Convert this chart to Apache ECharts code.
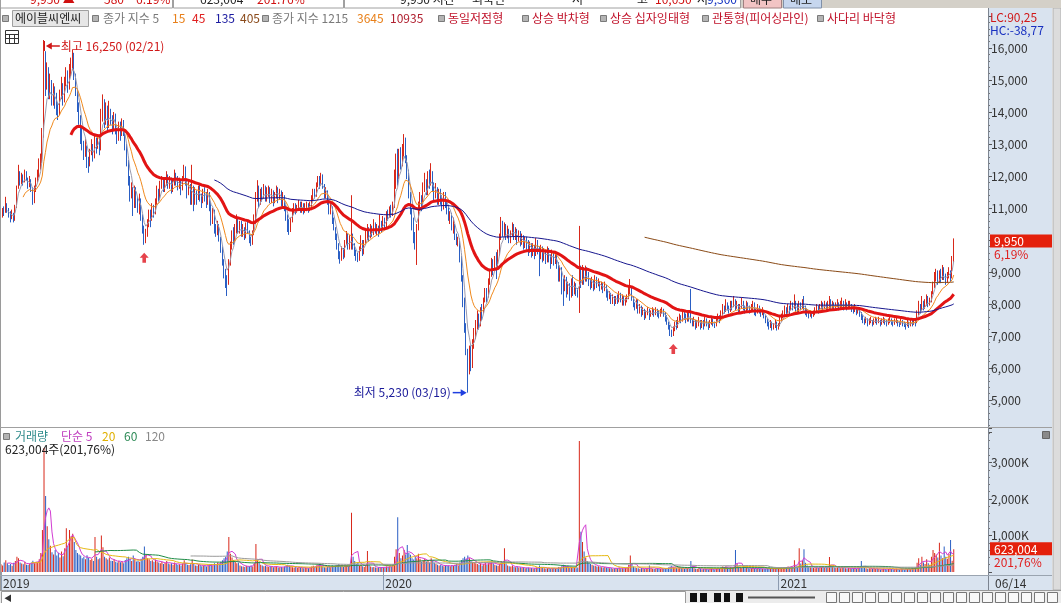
<!DOCTYPE html>
<html>
<head>
<meta charset="utf-8">
<script src="https://cdn.jsdelivr.net/npm/echarts@6/dist/echarts.min.js"></script>
<style>
  html, body { margin: 0; padding: 0; background: #fff; }
  #main { width: 1061px; height: 603px; }
</style>
</head>
<body>
<div id="main"></div>
<script>
// daily closes, 2019-01-10 .. 2021-06-14
const closes = [
  10750,10900,10850,11100,10950,10800,10700,10850,10600,11050, 11650,12100,11850,12000,11800,12150,11950,11700,11900,11600,
  11200,11550,11800,12050,12300,12500,13300,15600,14800,15300, 14600,14900,14300,14700,14400,14100,13900,14500,14800,14400,
  14900,15200,14800,15300,15500,15800,15100,14600,14200,13800, 13400,13000,12700,12900,12500,12300,12700,12950,12600,13100,
  12900,13200,12800,13900,14300,13700,14100,13600,14000,13800, 13500,13900,13400,13200,13600,13300,13700,13400,12900,12400,
  11900,11400,11600,11000,11500,11300,10900,11200,10700,10300, 10000,10200,10500,10800,10600,11000,10800,11200,11500,11300,
  11700,11900,11600,11800,12000,11700,11900,11600,11800,12100, 11900,11700,11800,11600,11900,12200,11800,11500,11700,11300,
  11600,11200,11500,11300,11600,11400,11200,11500,11400,11300, 11500,11100,10700,10900,10400,10200,10500,10000,9700,9300,
  9000,8700,8600,9300,9800,10200,10000,10400,10600,10300, 10500,10200,10400,10100,10500,10300,10000,9900,10200,10600,
  11300,11600,11200,11500,11400,11700,11300,11500,11600,11300, 11500,11200,11400,11600,11300,11500,11200,11400,11000,10700,
  10400,10300,10600,10900,11100,10900,11000,11200,10900,11100, 10900,11000,11100,10950,11050,11300,11500,11400,11700,11900,
  11800,12000,11700,11400,11500,11200,10900,11000,10600,10400, 10100,9800,9500,9400,9700,9500,9900,10100,9800,10000,
  10100,9800,9600,9500,9400,9700,9900,9600,9900,10100, 10300,10100,10400,10200,10500,10300,10400,10200,10500,10400,
  10600,10500,10800,10700,11000,10800,11100,11600,12300,11900, 12700,12400,12900,13100,12600,12000,11400,10900,10500,10200,
  10000,10400,11000,11300,11100,11600,11800,11500,12000,11800, 12100,11700,11400,11600,11200,11500,11300,11000,11400,11200,
  11000,10700,10800,10400,10500,10100,9900,10000,9500,8900, 8100,7300,6600,6000,6400,6100,6700,7000,7300,7600,
  7400,7800,7700,8100,8400,8200,8700,8900,9300,9100, 9400,9200,9600,10100,10500,10200,10400,10100,10300,10000,
  10200,10400,10100,10300,10000,10200,9900,10100,9800,10000, 9900,9700,9800,9600,9800,9600,9900,9700,9500,9700,
  9500,9600,9400,9700,9500,9300,9600,9400,9500,9200, 8900,9100,8700,8500,8800,8400,8600,8300,8700,8500,
  8600,8400,8300,8800,8700,9000,8800,9100,8900,8700, 8600,8700,8500,8800,8600,8700,8500,8600,8400,8600,
  8400,8200,8300,8100,8200,8000,8200,8100,8300,8100, 8200,8000,8100,8200,8400,8500,8200,8000,7900,8000,
  7800,7900,7700,7800,7600,7700,7800,7600,7700,7800, 7700,7800,7700,7600,7750,7800,7700,7600,7400,7300,
  7100,7050,7200,7400,7300,7500,7600,7500,7700,7600, 7500,7700,7600,7500,7400,7500,7300,7400,7500,7300,
  7400,7300,7500,7400,7300,7400,7500,7400,7350,7500, 7600,7500,7700,7900,7800,8000,7900,7800,8000,7900,
  8100,7900,8000,7800,7900,8100,7900,7800,8000,7900, 7800,7900,8000,7800,7700,7900,7800,7700,7800,7600,
  7500,7400,7300,7400,7250,7300,7400,7200,7300,7500, 7600,7700,7800,7700,7900,7800,8000,7900,8100,7900,
  7800,8000,7900,8100,7900,7800,7700,7600,7700,7650, 7700,7800,7900,7800,7900,8000,7900,8000,7900,8000,
  8100,7900,8000,7900,7950,8000,7900,8000,8050,7900, 8000,7900,7950,8000,7850,7800,7900,7750,7800,7700,
  7600,7500,7450,7500,7400,7450,7500,7400,7450,7500, 7450,7500,7400,7450,7500,7450,7400,7450,7500,7450,
  7400,7450,7500,7400,7350,7450,7400,7350,7300,7400, 7350,7450,7400,7500,7400,7700,7900,7800,8100,7900,
  8000,8200,8000,8100,8300,8600,8800,9000,8700,8900, 8800,9100,8900,8700,8900,9000,8800,9370,9950
];
const highs = [
  10900,11000,11050,11350,11150,11000,10900,10950,10850,11100, 11700,12350,12150,12100,12050,12200,12150,11950,12000,11900,
  11650,11700,11950,12200,12550,12700,13500,16250,15900,15550, 15400,15200,15000,14900,14800,14600,14300,14700,15100,14900,
  15100,15400,15300,15500,15700,15950,15850,15200,14700,14300, 13900,13500,13100,13150,12950,12600,12850,13150,13000,13250,
  13200,13300,13250,14100,14550,14400,14300,14200,14350,14100, 13900,14000,13950,13500,13700,13700,13800,13750,13450,13000,
  12500,12000,11800,11650,11700,11650,11350,11450,11300,10800, 10450,10350,10650,10950,10950,11150,11100,11300,11700,11600,
  11850,12000,11950,11900,12150,12050,12000,11950,11900,12200, 12100,12000,11950,11900,12000,12350,12300,11850,11900,11750,
  12350,11700,11650,11550,11700,11750,11450,11600,11650,11500, 11600,11500,11200,11000,10950,10500,10600,10500,10100,9800,
  9400,9100,8900,9400,9950,10300,10400,10500,10800,10700, 10600,10600,10500,10400,10550,10600,10300,10100,10300,10800,
  11500,11870,11700,11600,11650,11750,11700,11650,11700,11650, 11600,11550,11500,11700,11650,11600,11550,11500,11400,11100,
  10800,10650,10700,11000,11150,11150,11100,11250,11200,11200, 11150,11150,11200,11150,11200,11400,11600,11600,11800,12000,
  12000,12100,12050,11750,11650,11550,11250,11150,11050,10700, 10400,10200,9900,9650,9800,9750,10000,10280,10200,10150,
  11400,10200,9900,9700,9600,9800,10150,10000,10000,10300, 10500,10400,10500,10450,10650,10550,10500,10450,10800,10600,
  10750,10700,10900,10950,11050,11100,11200,12200,12700,12850, 12850,12900,13000,13310,13200,12650,12200,11500,11000,10700,
  10250,10500,11200,11500,11400,11800,12100,11900,12150,12200, 12400,12150,11800,11780,11650,11600,11600,11400,11500,11500,
  11200,11100,10900,10850,10700,10500,10200,10100,10050,9500, 8900,8200,7400,6600,6700,6700,6900,7250,7500,7800,
  7700,7900,8000,8200,8500,8500,8800,9100,9440,9400, 9500,9620,9700,10200,10720,10600,10550,10500,10450,10350,
  10300,10550,10500,10400,10350,10300,10280,10200,10150,10100, 10100,10000,9950,9900,9900,9850,10060,10000,9800,9850,
  9800,9750,9650,9800,9750,9550,9700,9650,9600,9550, 9310,9200,9150,8800,8900,8850,8700,8650,8800,8900,
  8700,8650,8500,10440,9200,9220,9150,9200,9150,9000, 8800,8850,8750,8900,8850,8800,8700,8700,8650,8700,
  8560,8450,8400,8350,8300,8250,8250,8300,8400,8350, 8300,8250,8200,8300,8550,8780,8550,8250,8050,8150,
  8150,8000,7950,7900,7850,7800,7900,7850,7800,7900, 7850,7900,7850,7800,7850,7900,7850,7750,7650,7450,
  7350,7200,7300,7450,7500,7600,7700,7650,7750,7750, 7700,7800,7750,8470,7550,7600,7500,7500,7600,7500,
  7500,7500,7600,7550,7450,7500,7600,7550,7450,7600, 7700,7650,7800,8000,7950,8150,8050,7950,8100,8100,
  8250,8150,8100,8000,8000,8200,8100,7950,8100,8050, 7950,8000,8100,8050,7850,8000,7950,7850,7900,7800,
  7650,7550,7450,7500,7450,7400,7500,7450,7400,7600, 7700,7800,7950,7900,8000,7950,8100,8050,8300,8100,
  8000,8100,8050,8150,8250,7950,7850,7750,7800,7750, 7800,7900,8000,7950,8000,8100,8050,8100,8050,8100,
  8250,8150,8100,8050,8050,8150,8050,8100,8200,8100, 8150,8050,8100,8100,8000,7950,8000,7900,7900,7850,
  7750,7650,7550,7600,7550,7550,7600,7500,7550,7600, 7550,7600,7500,7550,7600,7550,7500,7550,7600,7550,
  7500,7550,7600,7500,7450,7550,7500,7450,7400,7500, 7450,7500,7500,7550,7500,7800,8100,8000,8250,8100,
  8150,8300,8250,8200,8400,8700,9000,9100,9050,9050, 9100,9220,9150,8950,9000,9150,9050,9500,10050
];
const lows = [
  10600,10700,10750,10850,10850,10700,10550,10650,10550,10600, 11000,11600,11700,11750,11700,11800,11850,11600,11650,11500,
  11100,11150,11500,11800,11950,12200,12400,13200,14500,14700, 14400,14400,14200,14200,14100,13900,13750,13900,14400,14200,
  14300,14800,14600,14700,15100,15300,15000,14500,14000,13600, 13000,12800,12500,12600,12250,12100,12300,12650,12450,12550,
  12700,12850,12650,12800,13700,13500,13600,13400,13500,13600, 13300,13400,13300,13000,13100,13100,13250,13250,12800,12300,
  11700,11200,11300,10750,11000,11000,10850,10800,10600,10200, 9850,9900,10100,10400,10400,10600,10700,10800,11100,11200,
  11250,11600,11500,11500,11700,11600,11600,11450,11500,11700, 11700,11550,11600,11400,11550,11850,11700,11300,11400,11100,
  11100,10900,11100,11100,11250,11200,11000,11150,11200,11000, 11100,10900,10450,10500,10200,10100,10150,9950,9600,9200,
  8800,8500,8250,8600,9200,9700,9850,9900,10200,10200, 10200,10100,10100,10000,10050,10200,9900,9810,9850,10150,
  10500,11200,11000,11100,11200,11300,11200,11200,11350,11150, 11150,11050,11150,11300,11150,11250,11050,11050,10900,10600,
  10250,10160,10250,10550,10800,10800,10850,10950,10850,10850, 10800,10850,10900,10850,10900,11000,11250,11300,11350,11650,
  11600,11700,11600,11300,11300,11100,10800,10800,10500,10300, 10000,9700,9400,9260,9350,9400,9450,9850,9700,9700,
  9700,9700,9500,9350,9310,9350,9650,9500,9550,9850, 10000,9950,10050,10100,10150,10200,10150,10100,10200,10250,
  10300,10350,10400,10600,10700,10700,10750,11000,11600,11700, 12000,12200,12300,12600,12400,11900,11300,10800,10300,9900,
  9700,9220,10300,10900,10900,11000,11500,11400,11400,11600, 11700,11500,11200,11300,11100,11100,11100,10900,10950,11000,
  10800,10600,10500,10300,10200,10000,9840,9800,9300,8700, 7900,7100,6400,5230,5800,5900,6000,6600,6900,7200,
  7200,7300,7500,7700,8050,8050,8200,8600,8850,8900, 9100,8780,9150,9500,10000,10100,10100,10000,10050,9900,
  9900,10100,10000,10000,9850,9950,9800,9850,9700,9750, 9700,9500,9600,9450,9500,9400,9500,9550,8870,9400,
  9300,9350,9250,9300,9300,9100,9250,9200,9250,9100, 8700,8700,8300,7940,8400,8200,8300,8100,8200,8250,
  8300,8250,8200,7720,8500,8600,8600,8700,8700,8560, 8450,8500,8400,8450,8500,8550,8400,8450,8340,8400,
  8200,8100,8150,8000,8000,7940,8000,8000,8050,8050, 7950,7950,7950,8050,8150,8300,8100,7900,7800,7850,
  7700,7700,7600,7650,7500,7550,7650,7500,7600,7650, 7600,7650,7600,7550,7600,7700,7600,7450,7350,7200,
  7000,6970,7000,7150,7200,7250,7450,7400,7450,7500, 7400,7450,7450,7400,7300,7300,7200,7250,7300,7200,
  7250,7200,7300,7300,7190,7250,7350,7300,7250,7300, 7450,7400,7500,7650,7700,7750,7800,7700,7750,7800,
  7900,7800,7850,7720,7750,7850,7800,7700,7750,7800, 7700,7750,7800,7650,7620,7700,7700,7600,7650,7550,
  7400,7300,7200,7250,7170,7200,7250,7170,7200,7300, 7450,7550,7650,7600,7700,7650,7800,7800,7850,7750,
  7700,7750,7800,7850,7800,7650,7600,7550,7600,7550, 7600,7650,7750,7700,7750,7850,7800,7850,7800,7850,
  7850,7850,7850,7800,7850,7900,7800,7850,7900,7800, 7850,7800,7850,7850,7750,7700,7750,7650,7700,7600,
  7500,7400,7350,7400,7300,7350,7400,7300,7350,7400, 7350,7400,7300,7350,7400,7350,7300,7350,7400,7350,
  7300,7350,7400,7300,7280,7350,7300,7280,7200,7300, 7250,7300,7300,7350,7300,7400,7650,7700,7800,7800,
  7850,7950,7900,7950,8050,8300,8500,8700,8600,8650, 8650,8750,8750,8600,8650,8800,8700,8800,9300
];
// daily volume, thousands of shares
const volK = [
  210,180,260,320,240,190,220,170,250,300, 420,380,260,230,210,280,200,190,230,260,
  310,240,280,260,350,520,1150,3400,2080,1250, 900,720,540,480,600,450,520,400,560,430,
  650,1200,720,1150,980,1050,820,600,520,480, 450,380,420,350,460,390,330,360,300,960,
  420,350,380,1000,680,420,380,340,400,310, 300,350,280,260,310,270,290,240,330,380,
  420,360,300,450,340,290,310,280,360,420, 700,480,380,350,300,320,280,340,290,260,
  240,280,220,250,300,230,210,240,200,260, 220,190,210,180,230,320,250,200,190,210,
  340,220,180,170,200,190,160,180,170,150, 180,200,220,170,240,190,260,230,280,320,
  380,420,560,960,500,400,330,280,240,260, 180,160,150,140,170,150,160,180,150,220,
  770,340,260,200,180,160,170,150,140,160, 150,130,140,160,120,130,140,120,150,170,
  200,180,150,130,120,140,110,130,120,110, 100,120,110,100,120,150,170,140,180,200,
  220,180,160,130,120,140,160,130,180,150, 170,190,210,160,150,140,160,180,140,150,
  1620,420,300,220,260,180,200,160,140,170, 575,200,150,130,140,120,110,130,120,140,
  130,120,150,140,160,150,180,420,620,1500, 520,380,450,600,480,740,520,470,380,340,
  420,380,500,360,280,320,360,290,330,260, 380,300,250,220,200,180,190,170,160,180,
  170,180,160,190,170,200,220,180,260,330, 380,420,360,450,380,300,280,260,240,220,
  200,230,180,220,260,190,240,260,280,230, 200,180,170,220,300,260,650,240,180,160,
  150,170,140,130,150,120,130,110,120,100, 110,120,100,110,90,100,120,110,180,130,
  110,100,90,100,110,90,100,110,90,100, 140,120,160,200,130,150,120,110,130,120,
  110,100,120,3590,1100,820,560,400,300,260, 220,200,180,170,150,160,140,130,120,140,
  120,110,100,110,90,100,110,100,120,100, 100,90,110,120,200,450,230,150,120,110,
  100,90,110,100,90,80,100,180,110,90, 80,90,100,80,90,100,80,90,110,120,
  150,170,130,120,110,100,120,110,100,90, 100,110,90,300,150,100,90,80,90,80,
  70,80,90,80,70,80,90,80,70,90, 100,90,120,150,130,160,120,110,140,120,
  130,600,220,150,120,110,130,100,110,100, 90,100,110,90,80,100,90,80,90,80,
  90,100,80,90,110,90,80,90,100,110, 120,110,130,120,150,130,160,140,320,180,
  150,650,230,300,620,250,180,150,130,120, 110,100,120,110,130,150,120,110,130,120,
  410,180,140,120,110,130,120,100,150,110, 100,90,110,100,90,100,110,90,100,120,
  300,150,110,100,90,100,80,90,100,80, 90,80,70,80,90,80,70,80,90,80,
  70,80,90,80,70,90,80,70,90,80, 90,80,100,90,110,250,380,200,420,260,
  220,350,240,200,420,600,520,480,400,800, 450,380,700,420,360,500,880,308.79,623.004
];
const firstOpen = 10700;
const startDate = '2019-01-10';
const endDate = '2021-06-14';
const holidays = [
  '2019-02-04','2019-02-05','2019-02-06','2019-03-01','2019-05-01','2019-05-06','2019-06-06','2019-08-15',
  '2019-09-12','2019-09-13','2019-10-03','2019-10-09','2019-12-25','2019-12-31',
  '2020-01-01','2020-01-24','2020-01-27','2020-04-15','2020-04-30','2020-05-01','2020-05-05','2020-08-17',
  '2020-09-30','2020-10-01','2020-10-02','2020-10-09','2020-12-25','2020-12-31',
  '2021-01-01','2021-02-11','2021-02-12','2021-03-01','2021-05-05','2021-05-19'
];
const emaPeriods = [5, 15, 45, 135, 405];
const emaColors = ['#9a9aae', '#f08a1e', '#e21414', '#16168e', '#8a4a16'];
const emaWidths = [1, 1, 3, 1, 1];
const volMaPeriods = [5, 20, 60, 120];
const volMaColors = ['#d23cd2', '#e6b914', '#1e8c46', '#9a9a9a'];
const patternDates = ['2019-05-24', '2020-09-23'];
const padSlots = 21;

const UP = '#d8281a', DOWN = '#2a5fc4';
const FONT = '"Noto Sans CJK KR", "Noto Sans", sans-serif';
const fmtNum = v => v.toLocaleString('en-US');
const commaDec = v => v.toFixed(2).replace('.', ',');

// trading calendar
const dates = [];
for (let d = new Date(startDate + 'T00:00:00Z'); d <= new Date(endDate + 'T00:00:00Z'); d.setUTCDate(d.getUTCDate() + 1)) {
  const wd = d.getUTCDay(), s = d.toISOString().slice(0, 10);
  if (wd === 0 || wd === 6 || holidays.includes(s)) continue;
  dates.push(s);
}
const N = closes.length;
const cats = dates.slice(0, N).concat(Array.from({ length: padSlots }, (_, i) => 'pad' + i));

const opens = closes.map((c, i) => i === 0 ? firstOpen : closes[i - 1]);
const candleData = closes.map((c, i) => [opens[i], c, Math.min(lows[i], opens[i], c), Math.max(highs[i], opens[i], c)]);

function ema(src, n) {
  const a = 2 / (n + 1); let e = src[0];
  return src.map((v, i) => { e = i === 0 ? v : a * v + (1 - a) * e; return i < n - 1 ? '-' : Math.round(e * 10) / 10; });
}
function sma(src, n) {
  let s = 0;
  return src.map((v, i) => { s += v; if (i >= n) s -= src[i - n]; return i < n - 1 ? '-' : s / n; });
}
const yearStart = (i) => i === 0 || (i < N && dates[i].slice(0, 4) !== dates[i - 1].slice(0, 4));

const series = [
  { type: 'candlestick', xAxisIndex: 0, yAxisIndex: 0, data: candleData, barWidth: '70%', large: false, silent: true,
    itemStyle: { color: UP, color0: DOWN, borderColor: UP, borderColor0: DOWN, borderWidth: 1 }, z: 2 }
];
emaPeriods.forEach((p, j) => series.push({
  type: 'line', xAxisIndex: 0, yAxisIndex: 0, data: ema(closes, p), symbol: 'none', silent: true,
  lineStyle: { color: emaColors[j], width: emaWidths[j] }, z: 3
}));
series.push({
  type: 'scatter', xAxisIndex: 0, yAxisIndex: 0, silent: true, z: 5,
  data: patternDates.map(d => { const i = dates.indexOf(d); return [i, lows[i]]; }),
  symbol: 'path://M5,0 L10,5 L7,5 L7,10 L3,10 L3,5 L0,5 Z', symbolSize: [9, 10], symbolOffset: [0, 13],
  itemStyle: { color: '#e0141e' }
});
series.push({
  type: 'bar', xAxisIndex: 1, yAxisIndex: 1, barWidth: '60%', silent: true, z: 2,
  data: volK.map((v, i) => ({ value: v, itemStyle: { color: closes[i] >= opens[i] ? UP : DOWN } }))
});
volMaPeriods.forEach((p, j) => series.push({
  type: 'line', xAxisIndex: 1, yAxisIndex: 1, data: sma(volK, p), symbol: 'none', silent: true,
  lineStyle: { color: volMaColors[j], width: 1 }, z: 3
}));

const chart = echarts.init(document.getElementById('main'));
chart.setOption({
  backgroundColor: '#ffffff',
  animation: false,
  grid: [
    { left: 0, top: 16, width: 988, height: 416 },
    { left: 0, top: 428, width: 988, height: 144 }
  ],
  xAxis: [
    { gridIndex: 0, type: 'category', data: cats, boundaryGap: true, show: false },
    { gridIndex: 1, type: 'category', data: cats, boundaryGap: true,
      axisLine: { show: false }, splitLine: { show: false },
      axisTick: { show: true, alignWithLabel: true, interval: yearStart, length: 18, lineStyle: { color: '#8c9bb0' } },
      axisLabel: { interval: yearStart, formatter: v => v.slice(0, 4), align: 'left', margin: 5, padding: [0, 0, 0, 2],
        color: '#333', fontSize: 12, fontFamily: FONT } }
  ],
  yAxis: [
    { gridIndex: 0, type: 'value', position: 'right', min: 4000, max: 17000, interval: 1000,
      axisLine: { show: false }, splitLine: { show: false },
      axisTick: { show: true, length: 4, lineStyle: { color: '#555' } },
      minorTick: { show: true, splitNumber: 5, length: 2, lineStyle: { color: '#777' } },
      axisLabel: { margin: 3, color: '#333', fontSize: 12, fontFamily: FONT,
        formatter: v => (v < 5000 || v > 16000) ? '' : fmtNum(v) } },
    { gridIndex: 1, type: 'value', position: 'right', min: 0, max: 3945, interval: 1000,
      axisLine: { show: false }, splitLine: { show: false },
      axisTick: { show: true, length: 4, lineStyle: { color: '#555' } },
      minorTick: { show: true, splitNumber: 5, length: 2, lineStyle: { color: '#777' } },
      axisLabel: { margin: 3, color: '#333', fontSize: 12, fontFamily: FONT,
        formatter: v => (v <= 0 || v > 3000) ? '' : fmtNum(v) + 'K' } }
  ],
  series
});

// ---- decorations and annotations ----
function txt(x, y, text, fill, size, align) {
  return { type: 'text', x, y, z: 100, silent: true,
    style: { text, fill, font: (size || 12) + 'px ' + FONT, align: align || 'left', verticalAlign: 'middle' } };
}
function rect(x, y, w, h, fill, stroke, z) {
  return { type: 'rect', shape: { x, y, width: w, height: h }, z: z === undefined ? -5 : z, silent: true,
    style: { fill, stroke: stroke || null, lineWidth: 1 } };
}
function line(x1, y1, x2, y2, stroke, w, z) {
  return { type: 'line', shape: { x1, y1, x2, y2 }, z: z === undefined ? 50 : z, silent: true,
    style: { stroke, lineWidth: w || 1 } };
}
function square(x, y) { return rect(x + 0.5, y - 2.5, 6, 6, '#b4b4b4', '#7a7a7a', 100); }

const g = [];
// panels
g.push(rect(988, 8, 64, 582, '#d9e3ef'));
g.push(rect(0, 575, 988, 15, '#d9e3ef'));
g.push(rect(1053, 8, 8, 582, '#dcdcdc', '#b0b0b0'));
g.push(line(988.5, 8, 988.5, 590, '#7c8490', 1));
g.push(line(0.5, 8, 0.5, 590, '#9a9a9a', 1));
g.push(line(0, 427.5, 1052, 427.5, '#a0a0a0', 1));
g.push(line(0, 575.5, 1052, 575.5, '#9aa4b0', 1));
g.push(line(0, 590.5, 1061, 590.5, '#9a9a9a', 1));

// top strip (cut off by the window edge)
g.push(rect(0, 0, 1061, 8, '#d4d0c8'));
g.push(rect(0.5, -1, 172, 9, '#ffffff', '#a0a0a0'));
g.push(rect(173.5, -1, 170, 9, '#ffffff', '#a0a0a0'));
g.push(rect(344.5, -1, 396, 9, '#ffffff', '#a0a0a0'));
g.push(rect(743.5, -1, 38, 9, '#f2c4c4', '#a08080'));
g.push(rect(783.5, -1, 38, 9, '#c6d6ee', '#8090a8'));
const lastC = closes[N - 1], prevC = closes[N - 2];
[[30, fmtNum(lastC) + ' ▲', '#d01010'], [104, fmtNum(lastC - prevC), '#d01010'], [136, ((lastC / prevC - 1) * 100).toFixed(2) + '%', '#d01010'],
 [200, fmtNum(Math.round(volK[N - 1] * 1000)), '#222'], [257, (volK[N - 1] / volK[N - 2] * 100).toFixed(2) + '%', '#d01010'],
 [400, fmtNum(lastC) + ' 시간', '#222'], [472, '외국인', '#222'], [572, '저', '#222'], [637, '고', '#222'],
 [655, fmtNum(highs[N - 1]), '#d01010'], [697, '저', '#222'], [707, fmtNum(lows[N - 1]), '#1030c0'],
 [750, '매수', '#222'], [790, '매도', '#222']
].forEach(([x, t, c]) => g.push(txt(x, -0.5, t, c, 12)));

// price legend row
g.push(square(2, 18));
g.push(rect(12.5, 10.5, 76, 16, '#e6e6e6', '#a0a0a0', 90));
g.push(txt(15, 18.5, '에이블씨엔씨', '#222', 12));
g.push(square(92, 18));
g.push(txt(103, 18.5, '종가 지수 5', '#7a7a7a', 12));
g.push(txt(172, 18.5, '15', '#e8801a', 12));
g.push(txt(192, 18.5, '45', '#e02020', 12));
g.push(txt(215, 18.5, '135', '#1a1aa0', 12));
g.push(txt(240, 18.5, '405', '#8a4a1a', 12));
g.push(square(262, 18));
g.push(txt(272, 18.5, '종가 지수 1215', '#7a7a7a', 12));
g.push(txt(357, 18.5, '3645', '#e8801a', 12));
g.push(txt(390, 18.5, '10935', '#b02030', 12));
[[438, '동일저점형'], [522, '상승 박차형'], [600, '상승 십자잉태형'], [702, '관통형(피어싱라인)'], [817, '사다리 바닥형']]
  .forEach(([x, t]) => { g.push(square(x, 18)); g.push(txt(x + 10, 18.5, t, '#c01028', 12)); });
g.push(txt(990, 17, 'LC:90,25', '#d01818', 12));
g.push(txt(990, 30, 'HC:-38,77', '#1830c0', 12));

// table icon
g.push(rect(5.5, 30.5, 13, 13, '#ffffff', '#333', 90));
g.push(line(6, 34.5, 18, 34.5, '#333', 1, 91));
g.push(line(9.5, 34, 9.5, 43, '#333', 1, 91));
g.push(line(14.5, 34, 14.5, 43, '#333', 1, 91));
g.push(line(6, 38.5, 18, 38.5, '#333', 1, 91));

// volume legend
const lastV = volK[N - 1];
g.push(square(3, 436));
g.push(txt(15, 436.5, '거래량', '#2e8b8b', 12));
g.push(txt(61, 436.5, '단순 5', '#c040c0', 12));
g.push(txt(102, 436.5, '20', '#e0b000', 12));
g.push(txt(124, 436.5, '60', '#2e8b57', 12));
g.push(txt(145, 436.5, '120', '#888', 12));
g.push(txt(5, 449.5, fmtNum(Math.round(lastV * 1000)) + '주(' + commaDec(lastV / volK[N - 2] * 100) + '%)', '#222', 12));
g.push(rect(1042.5, 431.5, 7, 7, '#8a8a8a', '#666', 90));

// high / low markers
const HI = '#d01818', LO = '#1a1a9a', LOA = '#1f3fe0';
const fmtDate = d => d.slice(5, 7) + '/' + d.slice(8, 10);
const hiIdx = highs.indexOf(Math.max(...highs));
const [hx, hy] = chart.convertToPixel({ gridIndex: 0 }, [hiIdx, highs[hiIdx]]);
g.push(line(Math.round(hx) + 0.5, hy + 1, Math.round(hx) + 0.5, hy + 11, HI, 1, 100));
g.push(line(hx + 6, hy + 6, hx + 16, hy + 6, HI, 1.5, 100));
g.push({ type: 'polygon', z: 100, silent: true, shape: { points: [[hx + 2, hy + 6], [hx + 8, hy + 2.5], [hx + 8, hy + 9.5]] }, style: { fill: HI } });
g.push(txt(hx + 17, hy + 6, '최고 ' + fmtNum(highs[hiIdx]) + ' (' + fmtDate(dates[hiIdx]) + ')', HI, 12));
const loIdx = lows.indexOf(Math.min(...lows));
const [lx, ly] = chart.convertToPixel({ gridIndex: 0 }, [loIdx, lows[loIdx]]);
g.push(line(lx - 15, ly, lx - 6, ly, LOA, 1.5, 100));
g.push({ type: 'polygon', z: 100, silent: true, shape: { points: [[lx - 1, ly], [lx - 7, ly - 3.5], [lx - 7, ly + 3.5]] }, style: { fill: LOA } });
g.push(txt(lx - 17, ly, '최저 ' + fmtNum(lows[loIdx]) + ' (' + fmtDate(dates[loIdx]) + ')', LO, 12, 'right'));

// last price / last volume tags
const py = chart.convertToPixel({ yAxisIndex: 0 }, lastC);
g.push(rect(990, py - 7, 62, 13, '#e4200c', null, 95));
g.push(txt(994, py, fmtNum(lastC), '#ffffff', 12));
g.push(txt(994, py + 13, commaDec((lastC / prevC - 1) * 100) + '%', '#e02020', 12));
const pv = chart.convertToPixel({ yAxisIndex: 1 }, lastV);
g.push(rect(990, pv - 7, 62, 13, '#e4200c', null, 95));
g.push(txt(994, pv, fmtNum(Math.round(lastV * 1000)), '#ffffff', 12));
g.push(txt(994, pv + 13, commaDec(lastV / volK[N - 2] * 100) + '%', '#e02020', 12));
g.push(txt(995, 583, fmtDate(dates[N - 1]), '#333', 12));

// bottom toolbar
g.push(rect(0, 591, 1061, 12, '#ececec'));
g.push(rect(1.5, 591.5, 684, 12, '#ffffff', '#9a9a9a'));
g.push(txt(4, 597.5, '◀', '#333', 8));
[690, 700, 714, 724, 736].forEach((x, i) => g.push(rect(x, 593, i === 3 ? 6 : 7, 9, '#111', null, 90)));
g.push(line(748, 597.5, 815, 597.5, '#555', 2, 90));
for (let x = 826; x < 1056; x += 13) g.push(rect(x + 0.5, 592.5, 10, 10, '#f8f8f8', '#777', 90));

chart.setOption({ graphic: { elements: g } });
</script>
</body>
</html>
